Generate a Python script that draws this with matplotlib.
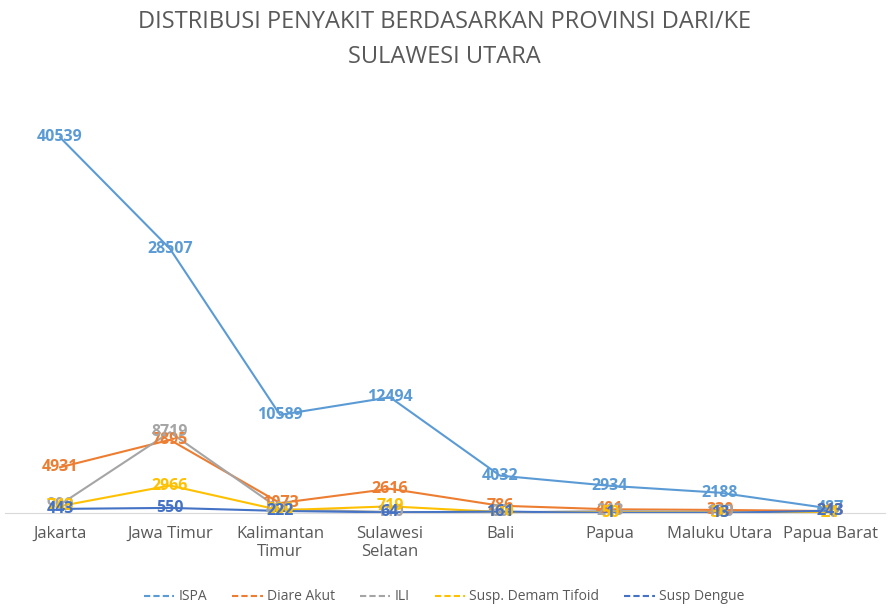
import matplotlib
matplotlib.use("Agg")
import matplotlib.pyplot as plt
from matplotlib.lines import Line2D

categories = ["Jakarta", "Jawa Timur", "Kalimantan\nTimur", "Sulawesi\nSelatan",
              "Bali", "Papua", "Maluku Utara", "Papua Barat"]
ispa = [40539, 28507, 10589, 12494, 4032, 2934, 2188, 487]
diare = [4931, 7895, 1073, 2616, 786, 401, 330, 213]
ili = [900, 8719, 400, 110, 60, 213, 100, 20]
tifoid = [743, 2966, 300, 719, 100, 50, 30, 24]
dengue = [443, 550, 222, 64, 161, 1, 13, 243]

series_names = ["ISPA", "Diare Akut", "ILI", "Susp. Demam Tifoid", "Susp Dengue"]
series_values = [ispa, diare, ili, tifoid, dengue]
colors = ["#5B9BD5", "#ED7D31", "#A5A5A5", "#FFC000", "#4472C4"]

plt.rcParams['font.family'] = ['Open Sans', 'DejaVu Sans']
fig = plt.figure(figsize=(8.88, 6.11), dpi=100)
ax = fig.add_axes([5/888, 98/611, 880/888, 417/611])

x = list(range(len(categories)))
for vals, c in zip(series_values, colors):
    ax.plot(x, vals, color=c, lw=1.5, zorder=2)
for vals, c in zip(series_values, colors):
    for xi, v in zip(x, vals):
        ax.text(xi, v, str(v), color=c, fontsize=11.5, fontweight='bold',
                ha='center', va='center', zorder=3)

ax.set_xlim(-0.5, len(categories) - 0.5)
ax.set_ylim(0, 45000)
ax.set_yticks([])
for s in ['top', 'right', 'left']:
    ax.spines[s].set_visible(False)
ax.spines['bottom'].set_color('#D9D9D9')
ax.set_xticks(x)
ax.set_xticklabels(categories, fontsize=12, color='#595959')
ax.tick_params(axis='x', length=0, pad=9)

fig.text(0.5, 1 - 22/611, "DISTRIBUSI PENYAKIT BERDASARKAN PROVINSI DARI/KE",
         ha='center', va='center', fontsize=17, color='#595959')
fig.text(0.5, 1 - 57/611, "SULAWESI UTARA",
         ha='center', va='center', fontsize=17, color='#595959')

handles = [Line2D([0], [0], color=c, lw=1.5, linestyle=(0, (3, 1.5))) for c in colors]
fig.legend(handles, series_names, loc='center', bbox_to_anchor=(0.5, 1 - 597/611),
           ncol=5, frameon=False, fontsize=10, labelcolor='#595959',
           handlelength=2.2, handletextpad=0.3, columnspacing=1.8)

fig.savefig("out.png", dpi=100)
